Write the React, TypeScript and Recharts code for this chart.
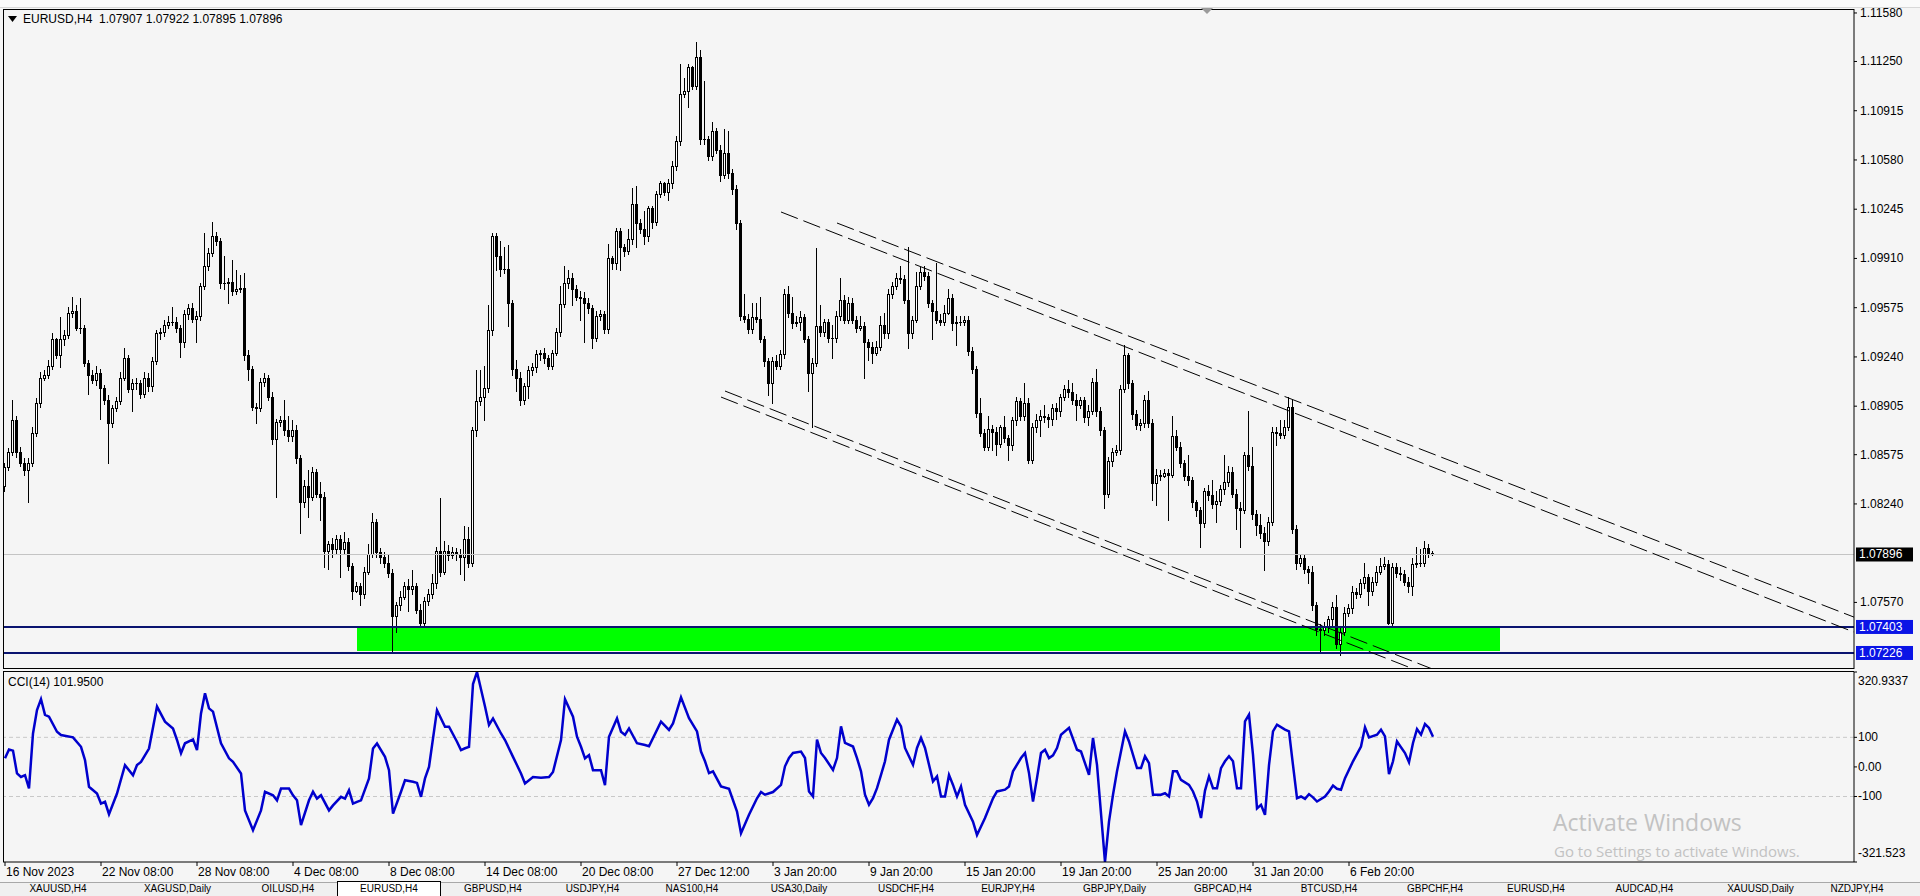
import React from 'react';
import { ComposedChart, Bar, Line, XAxis, YAxis, ReferenceLine, ReferenceArea } from 'recharts';

const FONT = "'Liberation Sans', Arial, sans-serif";
const BG = '#F5F5F5';

// ---------- EURUSD H4 candles (bar index 0..357) ----------
const firstOpen = 1.0836;
const closes = [
  1.0849, 1.0859, 1.0881, 1.0859, 1.0852, 1.0847, 1.0852, 1.0872, 1.0893, 1.0910,
  1.0912, 1.0918, 1.0936, 1.0925, 1.0936, 1.0939, 1.0954, 1.0955, 1.0944, 1.0944,
  1.0920, 1.0912, 1.0908, 1.0913, 1.0903, 1.0895, 1.0879, 1.0889, 1.0894, 1.0910,
  1.0923, 1.0902, 1.0906, 1.0906, 1.0899, 1.0910, 1.0904, 1.0921, 1.0940, 1.0941,
  1.0946, 1.0948, 1.0948, 1.0944, 1.0934, 1.0953, 1.0957, 1.0950, 1.0952, 1.0972,
  1.0986, 1.0995, 1.1006, 1.1003, 1.0974, 1.0974, 1.0975, 1.0969, 1.0970, 1.0971,
  1.0925, 1.0916, 1.0890, 1.0889, 1.0907, 1.0910, 1.0897, 1.0868, 1.0880, 1.0881,
  1.0874, 1.0870, 1.0874, 1.0855, 1.0825, 1.0836, 1.0829, 1.0846, 1.0831, 1.0829,
  1.0792, 1.0797, 1.0793, 1.0800, 1.0793, 1.0798, 1.0782, 1.0765, 1.0768, 1.0763,
  1.0778, 1.0790, 1.0812, 1.0791, 1.0788, 1.0784, 1.0777, 1.0748, 1.0755, 1.0761,
  1.0768, 1.0766, 1.0768, 1.0752, 1.0743, 1.0758, 1.0763, 1.0770, 1.0792, 1.0778,
  1.0792, 1.0789, 1.0791, 1.0790, 1.0788, 1.0800, 1.0784, 1.0874, 1.0894, 1.0897,
  1.0903, 1.0942, 1.1006, 1.0993, 1.0984, 1.0984, 1.0961, 1.0916, 1.0910, 1.0895,
  1.0904, 1.0915, 1.0917, 1.0926, 1.0927, 1.0923, 1.0918, 1.0927, 1.0941, 1.0960,
  1.0974, 1.0978, 1.0970, 1.0965, 1.0964, 1.0961, 1.0957, 1.0937, 1.0952, 1.0953,
  1.0943, 1.0991, 1.0988, 1.1010, 1.0999, 1.0996, 1.1004, 1.1028, 1.1015, 1.1011,
  1.1006, 1.1025, 1.1016, 1.1035, 1.1042, 1.1036, 1.1042, 1.1054, 1.1071, 1.1103,
  1.1105, 1.1121, 1.1108, 1.1128, 1.1072, 1.1072, 1.1061, 1.1078, 1.1065, 1.1048,
  1.1063, 1.1049, 1.1038, 1.1015, 1.0952, 1.0950, 1.0943, 1.0951, 1.0950, 1.0936,
  1.0921, 1.0906, 1.0921, 1.0918, 1.0926, 1.0967, 1.0954, 1.0947, 1.0948, 1.0951,
  1.0936, 1.0913, 1.0920, 1.0945, 1.0941, 1.0948, 1.0937, 1.0937, 1.0952, 1.0963,
  1.0949, 1.0961, 1.0949, 1.0944, 1.0945, 1.0934, 1.0931, 1.0927, 1.0931, 1.0946,
  1.0940, 1.0967, 1.0972, 1.0978, 1.0977, 1.0963, 1.0940, 1.0949, 1.0972, 1.0982,
  1.0979, 1.0961, 1.0955, 1.0949, 1.0948, 1.0954, 1.0964, 1.0947, 1.0948, 1.0948,
  1.0949, 1.0928, 1.0916, 1.0886, 1.0872, 1.0863, 1.0875, 1.0873, 1.0865, 1.0876,
  1.0869, 1.0864, 1.0881, 1.0894, 1.0884, 1.0893, 1.0854, 1.0876, 1.0881, 1.0884,
  1.0883, 1.0882, 1.0889, 1.0887, 1.0897, 1.0902, 1.0900, 1.0895, 1.0891, 1.0895,
  1.0883, 1.0887, 1.0907, 1.0887, 1.0874, 1.0831, 1.0853, 1.0859, 1.0861, 1.0902,
  1.0925, 1.0906, 1.0885, 1.0878, 1.0879, 1.0895, 1.0879, 1.0838, 1.0844, 1.0843,
  1.0845, 1.0844, 1.0870, 1.0863, 1.0852, 1.0843, 1.0840, 1.0825, 1.0820, 1.0811,
  1.0833, 1.0830, 1.0824, 1.0826, 1.0834, 1.0839, 1.0846, 1.0831, 1.0821, 1.0820,
  1.0857, 1.0850, 1.0817, 1.0810, 1.0804, 1.0799, 1.0812, 1.0873, 1.0872, 1.0871,
  1.0876, 1.0890, 1.0807, 1.0784, 1.0787, 1.0780, 1.0778, 1.0755, 1.0739, 1.0738,
  1.0741, 1.0746, 1.0754, 1.0729, 1.0737, 1.0750, 1.0753, 1.0764, 1.0763, 1.0770,
  1.0774, 1.0765, 1.0771, 1.0778, 1.0782, 1.0783, 1.0743, 1.0781, 1.0777, 1.0776,
  1.0771, 1.0768, 1.0783, 1.0784, 1.0784, 1.0794, 1.07907, 1.07896,
];
const highs = [
  1.0852, 1.0862, 1.0895, 1.0884, 1.0863, 1.0855, 1.0855, 1.0876, 1.0896, 1.0914,
  1.0915, 1.0922, 1.0940, 1.0937, 1.0951, 1.0942, 1.0958, 1.0965, 1.0959, 1.0964,
  1.0946, 1.0922, 1.0915, 1.0918, 1.0916, 1.0905, 1.0898, 1.0891, 1.0897, 1.0914,
  1.0930, 1.0925, 1.0909, 1.0910, 1.0908, 1.0914, 1.0913, 1.0924, 1.0942, 1.0944,
  1.0949, 1.0952, 1.0958, 1.0951, 1.0946, 1.0956, 1.0960, 1.0961, 1.0955, 1.0974,
  1.1008, 1.0998, 1.1016, 1.1009, 1.1005, 1.0993, 1.0978, 1.0990, 1.0983, 1.0980,
  1.0981, 1.0929, 1.0918, 1.0893, 1.0910, 1.0913, 1.0912, 1.0900, 1.0882, 1.0884,
  1.0895, 1.0884, 1.0881, 1.0878, 1.0857, 1.0840, 1.0847, 1.0849, 1.0848, 1.0839,
  1.0832, 1.0799, 1.0801, 1.0803, 1.0803, 1.0805, 1.0801, 1.0784, 1.0771, 1.0770,
  1.0781, 1.0797, 1.0818, 1.0814, 1.0794, 1.0791, 1.0789, 1.0780, 1.0757, 1.0765,
  1.0771, 1.0773, 1.0779, 1.0770, 1.0756, 1.0761, 1.0766, 1.0776, 1.0795, 1.0828,
  1.0799, 1.0796, 1.0795, 1.0794, 1.0793, 1.0809, 1.0808, 1.0876, 1.0915, 1.0915,
  1.0918, 1.0959, 1.1008, 1.1008, 1.1003, 1.0999, 1.1000, 1.0963, 1.0922, 1.0914,
  1.0906, 1.0918, 1.0920, 1.0929, 1.0929, 1.0930, 1.0925, 1.0929, 1.0944, 1.0972,
  1.0986, 1.0983, 1.0981, 1.0973, 1.0969, 1.0968, 1.0964, 1.0959, 1.0955, 1.0956,
  1.0955, 1.1001, 1.0993, 1.1012, 1.1012, 1.1001, 1.1011, 1.1039, 1.1040, 1.1018,
  1.1023, 1.1027, 1.1027, 1.1037, 1.1044, 1.1043, 1.1045, 1.1057, 1.1074, 1.1123,
  1.1114, 1.1123, 1.1122, 1.1138, 1.1133, 1.1112, 1.1074, 1.1084, 1.1080, 1.1068,
  1.1079, 1.1078, 1.1052, 1.1041, 1.1017, 1.0967, 1.0953, 1.0961, 1.0961, 1.0965,
  1.0938, 1.0923, 1.0924, 1.0925, 1.0929, 1.0970, 1.0972, 1.0965, 1.0952, 1.0955,
  1.0953, 1.0938, 1.0923, 1.0998, 1.0959, 1.0950, 1.0950, 1.0946, 1.0955, 1.0978,
  1.0966, 1.0965, 1.0964, 1.0952, 1.0952, 1.0948, 1.0936, 1.0934, 1.0935, 1.0952,
  1.0954, 1.0970, 1.0975, 1.0981, 1.0986, 1.0980, 1.0999, 1.0952, 1.0982, 1.0985,
  1.0986, 1.0982, 1.0963, 1.0988, 1.0953, 1.0959, 1.0970, 1.0967, 1.0952, 1.0952,
  1.0952, 1.0952, 1.0931, 1.0918, 1.0896, 1.0875, 1.0884, 1.0878, 1.0876, 1.0878,
  1.0884, 1.0871, 1.0883, 1.0897, 1.0896, 1.0906, 1.0896, 1.0879, 1.0885, 1.0888,
  1.0891, 1.0885, 1.0892, 1.0893, 1.0899, 1.0905, 1.0908, 1.0906, 1.0899, 1.0897,
  1.0897, 1.0891, 1.0910, 1.0916, 1.0890, 1.0876, 1.0856, 1.0862, 1.0864, 1.0905,
  1.0932, 1.0927, 1.0908, 1.0888, 1.0882, 1.0898, 1.0901, 1.0882, 1.0848, 1.0847,
  1.0848, 1.0848, 1.0884, 1.0874, 1.0866, 1.0854, 1.0857, 1.0842, 1.0827, 1.0822,
  1.0835, 1.0837, 1.0840, 1.0833, 1.0837, 1.0857, 1.0850, 1.0849, 1.0834, 1.0825,
  1.0859, 1.0887, 1.0863, 1.0820, 1.0817, 1.0808, 1.0815, 1.0876, 1.0876, 1.0881,
  1.0881, 1.0897, 1.0895, 1.0810, 1.0790, 1.0789, 1.0782, 1.0782, 1.0757, 1.0742,
  1.0744, 1.0748, 1.0757, 1.0762, 1.0740, 1.0754, 1.0756, 1.0768, 1.0767, 1.0773,
  1.0784, 1.0776, 1.0774, 1.0782, 1.0787, 1.0788, 1.0786, 1.0784, 1.0784, 1.0781,
  1.0779, 1.0774, 1.0787, 1.0795, 1.0793, 1.0799, 1.0797, 1.07922,
];
const lows = [
  1.0833, 1.0847, 1.0857, 1.0856, 1.0850, 1.0844, 1.0825, 1.0850, 1.0870, 1.0890,
  1.0908, 1.0910, 1.0916, 1.0923, 1.0917, 1.0932, 1.0937, 1.0951, 1.0942, 1.0940,
  1.0918, 1.0899, 1.0906, 1.0905, 1.0882, 1.0892, 1.0852, 1.0876, 1.0887, 1.0892,
  1.0908, 1.0900, 1.0887, 1.0902, 1.0896, 1.0897, 1.0901, 1.0901, 1.0919, 1.0936,
  1.0938, 1.0944, 1.0946, 1.0941, 1.0924, 1.0931, 1.0950, 1.0948, 1.0934, 1.0949,
  1.0970, 1.0983, 1.0993, 1.1000, 1.0971, 1.0970, 1.0961, 1.0966, 1.0967, 1.0968,
  1.0922, 1.0908, 1.0888, 1.0879, 1.0887, 1.0904, 1.0895, 1.0865, 1.0829, 1.0877,
  1.0871, 1.0867, 1.0867, 1.0852, 1.0804, 1.0822, 1.0815, 1.0827, 1.0829, 1.0813,
  1.0781, 1.0780, 1.0788, 1.0790, 1.0774, 1.0790, 1.0779, 1.0759, 1.0764, 1.0755,
  1.0760, 1.0776, 1.0788, 1.0788, 1.0784, 1.0781, 1.0774, 1.0723, 1.0737, 1.0752,
  1.0759, 1.0751, 1.0763, 1.0750, 1.0740, 1.0740, 1.0755, 1.0760, 1.0767, 1.0775,
  1.0776, 1.0786, 1.0787, 1.0786, 1.0776, 1.0772, 1.0781, 1.0782, 1.0870, 1.0891,
  1.0881, 1.0900, 1.0939, 1.0983, 1.0979, 1.0981, 1.0945, 1.0912, 1.0901, 1.0891,
  1.0892, 1.0896, 1.0912, 1.0914, 1.0922, 1.0920, 1.0916, 1.0916, 1.0925, 1.0938,
  1.0958, 1.0971, 1.0959, 1.0963, 1.0949, 1.0934, 1.0954, 1.0930, 1.0935, 1.0949,
  1.0940, 1.0940, 1.0984, 1.0984, 1.0983, 1.0993, 1.0994, 1.1001, 1.0999, 1.1008,
  1.1001, 1.1003, 1.1012, 1.1014, 1.1033, 1.1034, 1.1031, 1.1039, 1.1051, 1.1068,
  1.1101, 1.1094, 1.1106, 1.1106, 1.1069, 1.1069, 1.1058, 1.1058, 1.1063, 1.1044,
  1.1046, 1.1046, 1.1035, 1.1011, 1.0949, 1.0948, 1.0940, 1.0940, 1.0948, 1.0934,
  1.0918, 1.0898, 1.0893, 1.0916, 1.0916, 1.0923, 1.0951, 1.0944, 1.0945, 1.0942,
  1.0934, 1.0901, 1.0876, 1.0918, 1.0938, 1.0938, 1.0934, 1.0923, 1.0934, 1.0949,
  1.0947, 1.0947, 1.0947, 1.0941, 1.0942, 1.0910, 1.0922, 1.0920, 1.0925, 1.0929,
  1.0937, 1.0937, 1.0964, 1.0970, 1.0974, 1.0961, 1.0930, 1.0937, 1.0948, 1.0970,
  1.0976, 1.0958, 1.0936, 1.0947, 1.0946, 1.0946, 1.0953, 1.0942, 1.0932, 1.0946,
  1.0946, 1.0925, 1.0913, 1.0883, 1.0870, 1.0861, 1.0861, 1.0861, 1.0857, 1.0863,
  1.0866, 1.0854, 1.0861, 1.0878, 1.0881, 1.0881, 1.0852, 1.0852, 1.0873, 1.0870,
  1.0880, 1.0876, 1.0878, 1.0882, 1.0884, 1.0895, 1.0897, 1.0892, 1.0881, 1.0889,
  1.0880, 1.0878, 1.0885, 1.0884, 1.0871, 1.0821, 1.0829, 1.0850, 1.0857, 1.0858,
  1.0900, 1.0903, 1.0882, 1.0875, 1.0874, 1.0876, 1.0876, 1.0827, 1.0823, 1.0840,
  1.0842, 1.0813, 1.0842, 1.0861, 1.0849, 1.0840, 1.0837, 1.0822, 1.0816, 1.0795,
  1.0808, 1.0827, 1.0821, 1.0812, 1.0823, 1.0831, 1.0836, 1.0829, 1.0807, 1.0795,
  1.0818, 1.0847, 1.0814, 1.0803, 1.0801, 1.0779, 1.0796, 1.0810, 1.0864, 1.0869,
  1.0869, 1.0874, 1.0804, 1.0780, 1.0782, 1.0777, 1.0770, 1.0752, 1.0735, 1.0723,
  1.0735, 1.0737, 1.0741, 1.0726, 1.0721, 1.0735, 1.0748, 1.0750, 1.0760, 1.0761,
  1.0767, 1.0755, 1.0762, 1.0769, 1.0776, 1.0780, 1.0742, 1.0741, 1.0774, 1.0772,
  1.0769, 1.0764, 1.0762, 1.0781, 1.0782, 1.0782, 1.0788, 1.07895,
];

// ---------- CCI(14) readings: bar index / value ----------
const cciBars = [
  0, 1, 2, 3, 4, 5, 6, 7, 8, 9, 10, 11, 13, 14, 17, 19, 20, 21, 23, 24, 25, 26, 28, 30, 32, 33, 34, 36, 38, 40,
  42, 43, 44, 45, 47, 48, 49, 50, 51, 52, 54, 56, 57, 59, 60, 62, 64, 65, 67, 68, 69, 71, 72, 73, 74, 76, 77, 78, 79, 81,
  82, 84, 85, 86, 87, 88, 89, 91, 92, 93, 95, 96, 97, 99, 100, 102, 103, 104, 105, 106, 107, 108, 110, 111, 113, 114, 115, 116, 117, 118,
  120, 121, 122, 124, 125, 127, 129, 130, 132, 134, 136, 137, 139, 140, 142, 143, 144, 145, 146, 147, 149, 150, 151, 153, 154, 155, 156, 158, 160, 161,
  164, 166, 167, 169, 171, 173, 174, 175, 176, 177, 179, 181, 183, 184, 186, 188, 189, 190, 192, 194, 195, 196, 197, 199, 200, 201, 202, 203, 204, 205,
  207, 208, 209, 210, 212, 213, 214, 215, 216, 217, 218, 219, 220, 221, 223, 224, 225, 227, 228, 229, 230, 232, 233, 234, 235, 236, 237, 238, 239, 240,
  242, 243, 245, 247, 248, 250, 251, 252, 254, 255, 256, 257, 258, 259, 260, 261, 262, 263, 264, 266, 268, 269, 271, 272, 273, 275, 276, 277, 278, 280,
  281, 283, 284, 285, 286, 287, 289, 290, 291, 292, 293, 294, 296, 297, 298, 299, 300, 301, 302, 303, 304, 305, 306, 307, 308, 309, 310, 311, 312, 313,
  314, 315, 316, 317, 318, 320, 321, 322, 323, 324, 325, 326, 327, 328, 330, 331, 332, 333, 334, 335, 337, 339, 340, 341, 343, 344, 345, 346, 347, 348,
  350, 351, 352, 353, 354, 355, 356, 357,
];
const cciValues = [
  29, 59, 55, -22, -34, -28, -73, 113, 192, 229, 176, 170, 119, 108, 100, 68, 23, -67, -90, -124, -118, -160, -90, 6, -28, 6, 17, 62, 204, 153,
  130, 91, 46, 80, 93, 57, 181, 249, 198, 187, 80, 29, 17, -22, -147, -214, -147, -84, -96, -113, -73, -73, -96, -113, -197, -113, -84, -107, -96, -147,
  -130, -101, -107, -79, -124, -118, -113, -39, 62, 79, 34, -11, -158, -84, -45, -50, -54, -101, -39, 0, 96, 192, 136, 136, 85, 57, 63, 68, 280, 320.9337,
  204, 142, 164, 113, 91, 34, -22, -56, -34, -37, -34, -17, 91, 229, 170, 102, 68, 29, 40, -11, -11, -62, 102, 164, 119, 108, 130, 80, 74, 70,
  153, 125, 147, 235, 165, 120, 52, 19, -21, -15, -66, -74, -151, -224, -162, -106, -85, -94, -85, -61, 2, 30, 47, 52, 30, -83, -100, 92, 47, 30,
  -10, 30, 137, 81, 69, 30, -15, -94, -128, -106, -72, -27, 19, 92, 160, 137, 64, 7, 64, 98, 64, -49, -32, -100, -100, -27, -61, -100, -66, -128,
  -185, -230, -173, -106, -83, -77, -66, -15, 30, 47, -21, -117, -38, 47, 58, 30, 39, 64, 109, 132, 58, 52, -27, 98, 7, -321.523, -185, -94, -15, 120,
  86, -4, -4, 36, 13, -94, -94, -89, -100, -15, -15, -44, -61, -83, -117, -173, -80, -32, -72, -72, -4, 19, 36, 19, -72, -72, 154, 177, 41, -140,
  -128, -162, 6, 120, 143, 126, 120, 6, -106, -100, -108, -92, -103, -117, -100, -83, -63, -74, -77, -38, 19, 69, 134, 100, 109, 126, 103, -24, 19, 86,
  47, 16, 81, 128, 109, 145, 132, 101.95,
];

// ---------- axes ----------
const barDomain = [-0.5, 462.25];
const priceDomain = [1.07117, 1.11607];
const priceTicks = [1.1158, 1.1125, 1.10915, 1.1058, 1.10245, 1.0991, 1.09575, 1.0924, 1.08905, 1.08575, 1.0824, 1.0757];
const cciDomain = [-321.523, 320.9337];
const cciTicks = [320.9337, 100, 0, -100, -321.523];
const cciTickLabels = ['320.9337', '100', '0.00', '-100', '-321.523'];
const timeTickBars = [0, 24, 48, 72, 96, 120, 144, 168, 192, 216, 240, 264, 288, 312, 336];
const timeTickLabels = [
  '16 Nov 2023', '22 Nov 08:00', '28 Nov 08:00', '4 Dec 08:00', '8 Dec 08:00', '14 Dec 08:00', '20 Dec 08:00',
  '27 Dec 12:00', '3 Jan 20:00', '9 Jan 20:00', '15 Jan 20:00', '19 Jan 20:00', '25 Jan 20:00', '31 Jan 20:00', '6 Feb 20:00',
];

// ---------- drawings ----------
const currentPrice = 1.07896;
const levelPrices = [1.07403, 1.07226];
const zoneBars = [88, 373.75];
const zonePrices = [1.0724, 1.07403];
// [startBar, startPrice, endBar, endPrice]
const channelLines = [
  [194, 1.10226, 462.25, 1.07368],
  [208, 1.10151, 462.25, 1.0747],
  [180, 1.09008, 462.25, 1.0599],
  [179, 1.08967, 462.25, 1.0594],
];
const headerText = 'EURUSD,H4  1.07907 1.07922 1.07895 1.07896';
const cciHeader = 'CCI(14) 101.9500';
const tabs = [
  ['XAUUSD,H4', 116], ['XAGUSD,Daily', 123], ['OILUSD,H4', 98], ['EURUSD,H4', 104], ['GBPUSD,H4', 104],
  ['USDJPY,H4', 95], ['NAS100,H4', 104], ['USA30,Daily', 110], ['USDCHF,H4', 104], ['EURJPY,H4', 100],
  ['GBPJPY,Daily', 113], ['GBPCAD,H4', 104], ['BTCUSD,H4', 108], ['GBPCHF,H4', 104], ['EURUSD,H4', 98],
  ['AUDCAD,H4', 119], ['XAUUSD,Daily', 113], ['NZDJPY,H4', 80],
];

const candles = closes.map((c, i) => {
  const o = i === 0 ? firstOpen : closes[i - 1];
  return { i, o, h: highs[i], l: lows[i], c, range: [lows[i], highs[i]] };
});
const cciData = cciBars.map((b, k) => ({ i: b, v: cciValues[k] }));

const Candle = (props: any) => {
  const { x, y, width, height, payload } = props;
  if (!payload) return null;
  const { o, h, l, c } = payload;
  const top = Math.min(y, y + height);
  const bot = Math.max(y, y + height);
  const span = h - l;
  const py = (p: number) => (span > 0 ? top + ((h - p) / span) * (bot - top) : top);
  const center = x + width / 2;
  const left = Math.floor(center) - 1;
  const wx = left + 1.5;
  const yt = Math.round(Math.min(py(o), py(c)));
  const yb = Math.round(Math.max(py(o), py(c)));
  const bull = c > o;
  let body;
  if (yb - yt < 1) {
    body = <line x1={left} x2={left + 3} y1={yt + 0.5} y2={yt + 0.5} stroke="#000" strokeWidth={1} />;
  } else if (bull) {
    body = <rect x={left + 0.5} y={yt + 0.5} width={2} height={yb - yt} fill="#FFFFFF" stroke="#000" strokeWidth={1} />;
  } else {
    body = <rect x={left} y={yt} width={3} height={yb - yt + 1} fill="#000" />;
  }
  return (
    <g shapeRendering="crispEdges">
      <line x1={wx} x2={wx} y1={Math.round(top)} y2={Math.round(bot) + 1} stroke="#000" strokeWidth={1} />
      {body}
    </g>
  );
};

const PriceTick = (props: any) => {
  const { x, y, payload } = props;
  return (
    <text x={x + 1} y={y} dy={4} fontSize={12} fontFamily={FONT} fill="#000">
      {Number(payload.value).toFixed(5)}
    </text>
  );
};

const CciTick = (props: any) => {
  const { x, y, payload } = props;
  const k = cciTicks.indexOf(payload.value);
  let dy = 4;
  if (k === 0) dy = 13;
  if (k === cciTicks.length - 1) dy = -5;
  return (
    <text x={x - 1} y={y} dy={dy} fontSize={12} fontFamily={FONT} fill="#000">
      {cciTickLabels[k]}
    </text>
  );
};

const TimeTick = (props: any) => {
  const { x, y, payload } = props;
  const k = timeTickBars.indexOf(payload.value);
  return (
    <text x={x + 1} y={y + 8} fontSize={12} fontFamily={FONT} fill="#000">
      {timeTickLabels[k]}
    </text>
  );
};

const priceBox = (value: number, bg: string) => (p: any) => {
  const vb = p.viewBox || {};
  const xr = (vb.x || 0) + (vb.width || 0);
  const y = vb.y || 0;
  return (
    <g>
      <rect x={xr + 2} y={y - 7} width={57} height={14} fill={bg} />
      <text x={xr + 5} y={y + 4} fontSize={12} fontFamily={FONT} fill="#FFFFFF">
        {value.toFixed(5)}
      </text>
    </g>
  );
};

export default function App() {
  return (
    <div style={{ position: 'relative', width: 1920, height: 896, overflow: 'hidden', background: BG, fontFamily: FONT }}>
      <style>{'body{margin:0;background:#F5F5F5;}'}</style>

      {/* top toolbar remnant */}
      <div style={{ position: 'absolute', left: 0, top: 0, width: 1920, height: 7, background: '#FAFAFA', borderBottom: '1px solid #D8D8D8' }} />

      {/* main price window */}
      <div style={{ position: 'absolute', left: 0, top: 0 }}>
        <ComposedChart width={1920} height={680} data={candles} margin={{ top: 9, right: 0, bottom: 11, left: 3 }}>
          <XAxis type="number" dataKey="i" domain={barDomain} allowDataOverflow hide />
          <YAxis
            orientation="right"
            type="number"
            domain={priceDomain}
            allowDataOverflow
            width={66}
            ticks={priceTicks}
            interval={0}
            tick={<PriceTick />}
            tickSize={3}
            tickMargin={2}
            tickLine={{ stroke: '#000' }}
            axisLine={{ stroke: '#000' }}
          />
          <ReferenceArea
            x1={zoneBars[0]}
            x2={zoneBars[1]}
            y1={zonePrices[0]}
            y2={zonePrices[1]}
            fill="#00FF00"
            fillOpacity={1}
            stroke="none"
            ifOverflow="hidden"
          />
          <ReferenceLine y={currentPrice} stroke="#C4C4C4" strokeWidth={1} label={priceBox(currentPrice, '#000000')} />
          <Bar dataKey="range" shape={<Candle />} isAnimationActive={false} barSize={3} />
          <ReferenceLine y={levelPrices[0]} stroke="#0A1470" strokeWidth={2} label={priceBox(levelPrices[0], '#0A14E6')} />
          <ReferenceLine y={levelPrices[1]} stroke="#0A1470" strokeWidth={2} label={priceBox(levelPrices[1], '#0A14E6')} />
          {channelLines.map((ln, k) => (
            <ReferenceLine
              key={k}
              segment={[{ x: ln[0], y: ln[1] }, { x: ln[2], y: ln[3] }]}
              stroke="#000"
              strokeWidth={1}
              strokeDasharray="18 6"
              ifOverflow="hidden"
            />
          ))}
        </ComposedChart>
      </div>

      {/* CCI window */}
      <div style={{ position: 'absolute', left: 0, top: 660 }}>
        <ComposedChart width={1920} height={236} data={cciData} margin={{ top: 12, right: 0, bottom: 10, left: 3 }}>
          <XAxis
            type="number"
            dataKey="i"
            domain={barDomain}
            allowDataOverflow
            ticks={timeTickBars}
            interval={0}
            tick={<TimeTick />}
            tickSize={4}
            tickMargin={2}
            height={24}
            tickLine={{ stroke: '#000' }}
            axisLine={{ stroke: '#000' }}
          />
          <YAxis
            orientation="right"
            type="number"
            domain={cciDomain}
            allowDataOverflow
            width={66}
            ticks={cciTicks}
            interval={0}
            tick={<CciTick />}
            tickSize={3}
            tickMargin={2}
            tickLine={{ stroke: '#000' }}
            axisLine={{ stroke: '#000' }}
          />
          <ReferenceLine y={100} stroke="#C8C8C8" strokeDasharray="4 3" />
          <ReferenceLine y={-100} stroke="#C8C8C8" strokeDasharray="4 3" />
          <Line dataKey="v" type="linear" stroke="#0000CD" strokeWidth={2.5} dot={false} isAnimationActive={false} />
        </ComposedChart>
      </div>

      {/* window frames */}
      <div style={{ position: 'absolute', left: 3, top: 9, width: 1851, height: 660, borderLeft: '1px solid #000', borderTop: '1px solid #000', borderBottom: '1px solid #000', boxSizing: 'border-box', pointerEvents: 'none' }} />
      <div style={{ position: 'absolute', left: 3, top: 671, width: 1851, height: 191, borderLeft: '1px solid #000', borderTop: '1px solid #000', boxSizing: 'border-box', pointerEvents: 'none' }} />
      {/* chart shift marker */}
      <svg style={{ position: 'absolute', left: 1200, top: 8 }} width={14} height={8}>
        <polygon points="1,0 13,0 7,6" fill="#9A9A9A" />
      </svg>

      {/* header texts */}
      <div style={{ position: 'absolute', left: 7, top: 12, fontSize: 12, color: '#000', whiteSpace: 'pre', display: 'flex', alignItems: 'center' }}>
        <svg width={12} height={8} style={{ marginRight: 4 }}><polygon points="1,1 10,1 5.5,7" fill="#000" /></svg>
        <span>{headerText}</span>
      </div>
      <div style={{ position: 'absolute', left: 8, top: 675, fontSize: 12, color: '#000', whiteSpace: 'pre' }}>{cciHeader}</div>

      {/* Windows watermark */}
      <div style={{ position: 'absolute', left: 1553, top: 806, fontSize: 23, color: '#C2C2C2', fontFamily: "'Open Sans', 'Noto Sans', sans-serif", whiteSpace: 'pre' }}>Activate Windows</div>
      <div style={{ position: 'absolute', left: 1554, top: 841, fontSize: 15, color: '#C2C2C2', fontFamily: "'Open Sans', 'Noto Sans', sans-serif", whiteSpace: 'pre' }}>Go to Settings to activate Windows.</div>

      {/* bottom tabs */}
      <div style={{ position: 'absolute', left: 0, top: 882, width: 1920, height: 14, background: '#F0F0F0', borderTop: '1px solid #A8A8A8', display: 'flex', boxSizing: 'border-box' }}>
        {tabs.map((t, k) => (
          <div
            key={k}
            style={{
              width: t[1] as number,
              height: k === 3 ? 15 : 13,
              boxSizing: 'border-box',
              borderRight: '1px solid #A0A0A0',
              background: k === 3 ? '#FFFFFF' : 'transparent',
              border: k === 3 ? '1px solid #000' : undefined,
              borderBottom: 'none',
              marginTop: k === 3 ? -2 : 0,
              fontSize: 10,
              lineHeight: '12px',
              textAlign: 'center',
              paddingTop: k === 3 ? 1 : 0,
              color: '#000',
              whiteSpace: 'nowrap',
              overflow: 'hidden',
            }}
          >
            {t[0]}
          </div>
        ))}
      </div>
    </div>
  );
}
